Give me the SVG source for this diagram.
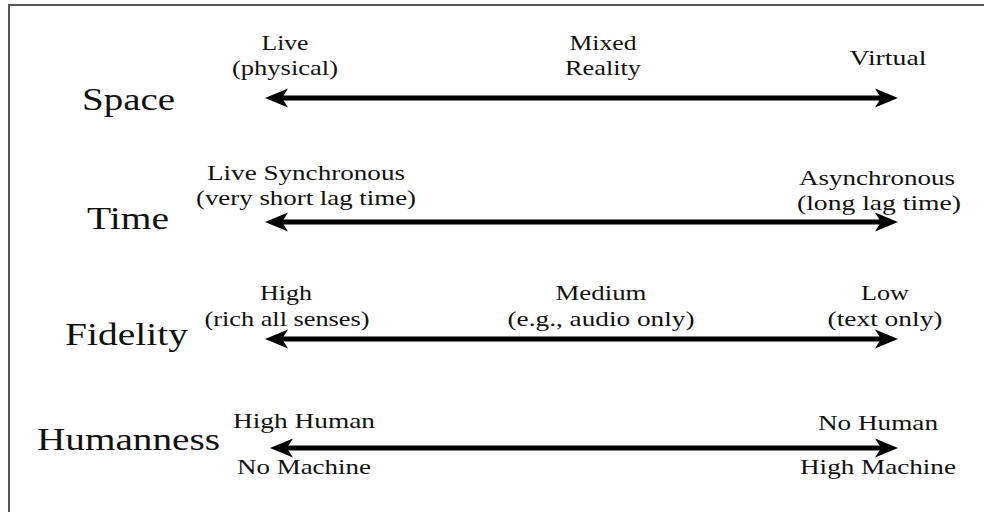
<svg xmlns="http://www.w3.org/2000/svg" width="984" height="512" viewBox="0 0 984 512">
<style>
text{font-family:"Liberation Serif","Times New Roman",serif;fill:#111}
.h{font-size:32px}
.l{font-size:21px;text-anchor:middle}
.ax{stroke:#000;stroke-width:5;fill:none}
</style>
<defs>
<marker id="ah" markerUnits="userSpaceOnUse" markerWidth="26" markerHeight="22" refX="14" refY="11" orient="auto-start-reverse">
<path d="M24,11 L1,1.5 L7,11 L1,20.5 Z" fill="#000"/>
</marker>
</defs>
<rect x="9" y="5" width="990" height="520" fill="none" stroke="#555" stroke-width="2"/>
<g id="connectors">
<line class="ax" x1="275" y1="98" x2="888" y2="98" marker-start="url(#ah)" marker-end="url(#ah)"/>
<line class="ax" x1="275" y1="222" x2="888" y2="222" marker-start="url(#ah)" marker-end="url(#ah)"/>
<line class="ax" x1="275" y1="339" x2="888" y2="339" marker-start="url(#ah)" marker-end="url(#ah)"/>
<line class="ax" x1="280" y1="448" x2="888" y2="448" marker-start="url(#ah)" marker-end="url(#ah)"/>
</g>
<g id="space">
<text class="h" x="82" y="110" textLength="93" lengthAdjust="spacingAndGlyphs">Space</text>
<text class="l" x="285" y="50" textLength="47" lengthAdjust="spacingAndGlyphs">Live</text>
<text class="l" x="285" y="75" textLength="106" lengthAdjust="spacingAndGlyphs">(physical)</text>
<text class="l" x="603" y="50" textLength="67" lengthAdjust="spacingAndGlyphs">Mixed</text>
<text class="l" x="603" y="75" textLength="76" lengthAdjust="spacingAndGlyphs">Reality</text>
<text class="l" x="888" y="65" textLength="77" lengthAdjust="spacingAndGlyphs">Virtual</text>
</g>
<g id="time">
<text class="h" x="87" y="229" textLength="82" lengthAdjust="spacingAndGlyphs">Time</text>
<text class="l" x="306" y="180" textLength="198" lengthAdjust="spacingAndGlyphs">Live Synchronous</text>
<text class="l" x="306" y="205" textLength="220" lengthAdjust="spacingAndGlyphs">(very short lag time)</text>
<text class="l" x="877" y="185" textLength="156" lengthAdjust="spacingAndGlyphs">Asynchronous</text>
<text class="l" x="879" y="210" textLength="164" lengthAdjust="spacingAndGlyphs">(long lag time)</text>
</g>
<g id="fidelity">
<text class="h" x="65" y="345" textLength="123" lengthAdjust="spacingAndGlyphs">Fidelity</text>
<text class="l" x="286" y="300" textLength="52" lengthAdjust="spacingAndGlyphs">High</text>
<text class="l" x="287" y="326" textLength="165" lengthAdjust="spacingAndGlyphs">(rich all senses)</text>
<text class="l" x="601" y="300" textLength="91" lengthAdjust="spacingAndGlyphs">Medium</text>
<text class="l" x="601" y="326" textLength="187" lengthAdjust="spacingAndGlyphs">(e.g., audio only)</text>
<text class="l" x="885" y="300" textLength="48" lengthAdjust="spacingAndGlyphs">Low</text>
<text class="l" x="885" y="326" textLength="115" lengthAdjust="spacingAndGlyphs">(text only)</text>
</g>
<g id="humanness">
<text class="h" x="37" y="450" textLength="183" lengthAdjust="spacingAndGlyphs">Humanness</text>
<text class="l" x="304" y="428" textLength="142" lengthAdjust="spacingAndGlyphs">High Human</text>
<text class="l" x="304" y="474" textLength="134" lengthAdjust="spacingAndGlyphs">No Machine</text>
<text class="l" x="878" y="430" textLength="120" lengthAdjust="spacingAndGlyphs">No Human</text>
<text class="l" x="878" y="474" textLength="156" lengthAdjust="spacingAndGlyphs">High Machine</text>
</g>
</svg>
